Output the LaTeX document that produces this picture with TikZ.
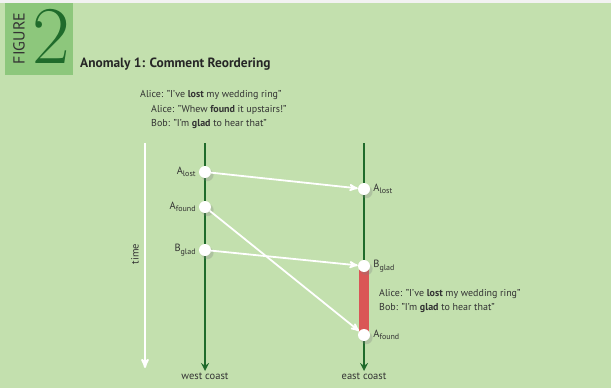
\documentclass[tikz,border=0pt]{standalone}
\usepackage{fontspec}
\setsansfont{PT Sans}
\renewcommand{\familydefault}{\sfdefault}
\usetikzlibrary{positioning,shadows,arrows}
\definecolor{bg}{HTML}{C3E0AE}
\definecolor{figbox}{HTML}{8DC77C}
\definecolor{darkgreen}{HTML}{1F6B2B}
\definecolor{barred}{HTML}{DA5656}
\definecolor{ink}{HTML}{333333}
\newcommand{\sub}[1]{\raisebox{-2.5pt}{\fontsize{8}{8}\selectfont #1}}
\tikzset{
  ev/.style={circle, fill=white, minimum size=12pt, inner sep=0pt, circular drop shadow={shadow xshift=2pt, shadow yshift=-2.5pt, opacity=.3}},
  tl/.style={draw=darkgreen, line width=2.5pt, ->, >=stealth},
  msg/.style={draw=white, line width=1.8pt, ->, >=stealth'},
  lbl/.style={font=\sffamily\fontsize{10.5}{11}\selectfont, text=ink, inner sep=0pt},
  quote/.style={font=\sffamily\fontsize{10}{11}\selectfont, text=ink, inner sep=0pt, anchor=base west},
  node distance=3pt
}
\begin{document}
\begin{tikzpicture}[x=1pt,y=-1pt]
	\useasboundingbox (0,0) rectangle (611,388);
	\fill[black!5] (0,0) rectangle (611,3);
	\fill[bg] (0,3) rectangle (611,388);
	% figure tag
	\fill[figbox] (5,3) rectangle (73,75);
	\node[rotate=90, inner sep=0pt, text=ink, font=\sffamily\fontsize{16}{16}\selectfont] (figword) at (19,38.5) {FIGURE};
	\node[inner sep=1pt, text=darkgreen, font=\rmfamily\fontsize{82}{82}\selectfont] (fignum) at (51,36) {2};
	\node[anchor=base west, inner sep=0pt, text=black!85, font=\sffamily\bfseries\fontsize{13.4}{15}\selectfont] (title) at (80,67) {Anomaly 1: Comment Reordering};
	%
	\node[quote] (q1) at (140,97) {Alice: "I've \textbf{lost} my wedding ring"};
	\node[quote] (q2) at (151,112) {Alice: "Whew \textbf{found} it upstairs!"};
	\node[quote] (q3) at (151,126) {Bob: "I'm \textbf{glad} to hear that"};
	%
	\coordinate (ttop) at (145,143);
	\coordinate (tbot) at (145,368);
	\coordinate (wtop) at (205,143);
	\coordinate (wbot) at (205,371);
	\coordinate (etop) at (364,143);
	\coordinate (ebot) at (364,371);
	\draw[white, line width=2pt, ->, >=stealth'] (ttop) -- (tbot);
	\node[lbl, rotate=90] (time) at (135,254) {time};
	\draw[tl] (wtop) -- (wbot);
	\draw[tl] (etop) -- (ebot);
	\node[lbl, below=2pt of wbot] (west) {west coast};
	\node[lbl, below=2pt of ebot] (east) {east coast};
	%
	\draw[barred, line width=10pt] (364,266) -- (364,335);
	\node[ev] (wlost) at (205,172) {};
	\node[ev] (wfound) at (205,207) {};
	\node[ev] (wglad) at (205,250) {};
	\node[ev] (elost) at (364,189) {};
	\node[ev] (eglad) at (364,266) {};
	\node[ev] (efound) at (364,335) {};
	%
	\node[lbl, left=of wlost] (wlostl) {A\sub{lost}};
	\node[lbl, left=of wfound] (wfoundl) {A\sub{found}};
	\node[lbl, left=of wglad] (wgladl) {B\sub{glad}};
	\node[lbl, right=of elost] (elostl) {A\sub{lost}};
	\node[lbl, right=of eglad] (egladl) {B\sub{glad}};
	\node[lbl, right=of efound] (efoundl) {A\sub{found}};
	%
	\draw[msg] (wlost) -- (elost);
	\draw[msg] (wfound) -- (efound);
	\draw[msg] (wglad) -- (eglad);
	%
	\node[quote] (r1) at (379,296) {Alice: "I've \textbf{lost} my wedding ring"};
	\node[quote] (r2) at (379,310) {Bob: "I'm \textbf{glad} to hear that"};
\end{tikzpicture}
\end{document}
